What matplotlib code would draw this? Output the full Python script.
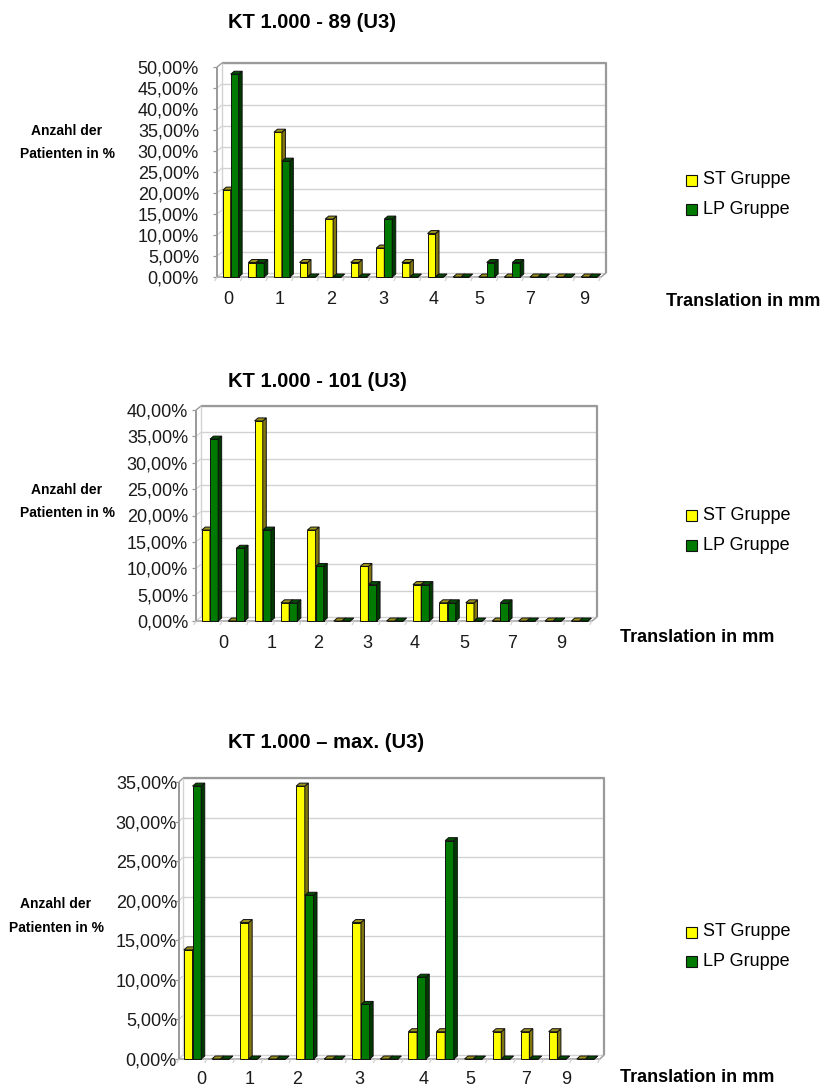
import matplotlib
matplotlib.use("Agg")
import matplotlib.pyplot as plt
import matplotlib.transforms as mtransforms
from matplotlib.patches import Polygon, Rectangle

plt.rcParams["font.family"] = ["Liberation Sans", "DejaVu Sans"]

W, H, DPI = 825, 1091, 100

# Translation classes in mm (every other class is labelled on the axis)
categories = ["0", "0,5", "1", "1,5", "2", "2,5", "3", "3,5", "4", "4,5", "5", "6", "7", "8", "9"]
axis_labels = ["0", "1", "2", "3", "4", "5", "7", "9"]
series_names = ["ST Gruppe", "LP Gruppe"]

# Share of patients in % per translation class
st_89 = [20.69, 3.45, 34.48, 3.45, 13.79, 3.45, 6.90, 3.45, 10.34, 0, 0, 0, 0, 0, 0]
lp_89 = [48.28, 3.45, 27.59, 0, 0, 0, 13.79, 0, 0, 0, 3.45, 3.45, 0, 0, 0]

st_101 = [17.24, 0, 37.93, 3.45, 17.24, 0, 10.34, 0, 6.90, 3.45, 3.45, 0, 0, 0, 0]
lp_101 = [34.48, 13.79, 17.24, 3.45, 10.34, 0, 6.90, 0, 6.90, 3.45, 0, 3.45, 0, 0, 0]

st_max = [13.79, 0, 17.24, 0, 34.48, 0, 17.24, 0, 3.45, 3.45, 0, 3.45, 3.45, 3.45, 0]
lp_max = [34.48, 0, 0, 0, 20.69, 0, 6.90, 0, 10.34, 27.59, 0, 0, 0, 0, 0]

titles = ["KT 1.000 - 89 (U3)", "KT 1.000 - 101 (U3)", "KT 1.000 \u2013 max. (U3)"]
y_maxima = [50, 40, 35]
y_title_lines = ["Anzahl der", "Patienten in %"]
x_title = "Translation in mm"

# Page layout of the three panels (pixel positions on the page)
layout = [
    dict(L=222, R=606, top=67, floor=277, dx=5, dy=4, lab_right=199,
         title_y=23, ylab_x=67, ylab_y=(131, 154), leg_y=(180, 209),
         trans=(666, 301), xlab_y=300,
         xlab_pos=[0.23, 2.27, 4.26, 6.29, 8.28, 10.04, 12.03, 14.14]),
    dict(L=201, R=597, top=410, floor=621, dx=5, dy=4, lab_right=188,
         title_y=382, ylab_x=67, ylab_y=(490, 513), leg_y=(516, 545),
         trans=(620, 638), xlab_y=644,
         xlab_pos=[0.86, 2.66, 4.45, 6.29, 8.08, 9.96, 11.79, 13.63]),
    dict(L=183, R=604, top=782, floor=1059, dx=4, dy=4, lab_right=177,
         title_y=742, ylab_x=56, ylab_y=(904, 928), leg_y=(932, 961),
         trans=(620, 1077), xlab_y=1080,
         xlab_pos=[0.67, 2.36, 4.07, 6.28, 8.59, 10.24, 12.21, 13.64]),
]

YEL = dict(front="#FFFF00", side="#82770F", top="#9C931C")
GRN = dict(front="#007A00", side="#003A00", top="#004F00")
GRID = "#d2d2d2"
WALL = "#9a9a9a"
EDGE = "#111111"


def fx(x):
    return x / W


def fy(y):
    return 1 - y / H


fig = plt.figure(figsize=(W / DPI, H / DPI), dpi=DPI)
fig.patch.set_facecolor("white")


def draw_panel(lay, title, ymax, st, lp):
    n = len(categories)
    ax = fig.add_axes([fx(lay["L"]), fy(lay["floor"]),
                       (lay["R"] - lay["L"]) / W, (lay["floor"] - lay["top"]) / H])
    ax.set_xlim(0, n)
    ax.set_ylim(0, ymax)
    ax.axis("off")

    slot_px = (lay["R"] - lay["L"]) / n
    val_px = (lay["floor"] - lay["top"]) / ymax
    dxd = lay["dx"] / slot_px
    dyd = lay["dy"] / val_px
    tick_x = 4 / slot_px
    tick_y = 4 / val_px
    kw = dict(clip_on=False, solid_capstyle="butt")

    # back wall with gridlines, left wall and floor
    for v in range(0, ymax + 1, 5):
        ax.plot([0, n], [v + dyd, v + dyd], color=GRID, lw=1.0, zorder=0, **kw)
        ax.plot([-dxd, 0], [v, v + dyd], color=GRID, lw=0.8, zorder=0, **kw)
        ax.plot([-dxd - tick_x, -dxd], [v, v], color=WALL, lw=0.9, zorder=1, **kw)
    ax.plot([0, n, n], [ymax + dyd, ymax + dyd, dyd], color=WALL, lw=1.6, zorder=1, **kw)
    ax.plot([0, 0], [dyd, ymax + dyd], color=GRID, lw=1.0, zorder=1, **kw)
    ax.plot([-dxd, -dxd], [0, ymax], color=WALL, lw=1.4, zorder=1, **kw)
    ax.plot([-dxd, 0], [ymax, ymax + dyd], color=WALL, lw=0.9, zorder=1, **kw)
    ax.plot([-dxd, n - dxd, n], [0, 0, dyd], color=WALL, lw=1.0, zorder=1, **kw)
    for k in range(n + 1):
        ax.plot([k - dxd, k - dxd - 0.6 * tick_x], [0, -tick_y], color=GRID,
                lw=0.9, zorder=1, **kw)

    # 3-D looking columns
    width = 0.31
    start = 0.03
    bdx = 3.5 / slot_px
    bdy = 3.0 / val_px
    for s, (vals, col) in enumerate([(st, YEL), (lp, GRN)]):
        x0 = [i + start + s * width for i in range(n)]
        z = 2 + s
        ax.bar(x0, vals, width=width, align="edge", color=col["front"],
               edgecolor=EDGE, linewidth=0.7, zorder=z, clip_on=False)
        for xa, v in zip(x0, vals):
            xb = xa + width
            side = [(xb, 0), (xb, v), (xb + bdx, v + bdy), (xb + bdx, bdy)]
            top = [(xa, v), (xb, v), (xb + bdx, v + bdy), (xa + bdx, v + bdy)]
            ax.add_patch(Polygon(side, closed=True, fc=col["side"], ec=EDGE,
                                 lw=0.7, zorder=z, clip_on=False))
            ax.add_patch(Polygon(top, closed=True, fc=col["top"], ec=EDGE,
                                 lw=0.7, zorder=z, clip_on=False))

    # value axis labels
    ytr = mtransforms.blended_transform_factory(fig.transFigure, ax.transData) + \
        mtransforms.ScaledTranslation(0, -2 / DPI, fig.dpi_scale_trans)
    for v in range(0, ymax + 1, 5):
        ax.text(fx(lay["lab_right"]), v, f"{v},00%", transform=ytr, ha="right",
                va="center", fontsize=13, color="#1a1a1a")

    # category axis labels
    xtr = mtransforms.blended_transform_factory(ax.transData, fig.transFigure)
    for pos, lab in zip(lay["xlab_pos"], axis_labels):
        ax.text(pos, fy(lay["xlab_y"]), lab, transform=xtr, ha="center",
                va="center", fontsize=13, color="#1a1a1a", clip_on=False)

    # titles
    fig.text(fx(228), fy(lay["title_y"]), title, ha="left", va="center",
             fontsize=14.5, fontweight="bold")
    for line, yy in zip(y_title_lines, lay["ylab_y"]):
        fig.text(fx(lay["ylab_x"]), fy(yy), line, ha="center", va="center",
                 fontsize=10, fontweight="bold")
    fig.text(fx(lay["trans"][0]), fy(lay["trans"][1]), x_title, ha="left",
             va="center", fontsize=13, fontweight="bold")

    # legend
    for name, col, yy in zip(series_names, (YEL, GRN), lay["leg_y"]):
        fig.add_artist(Rectangle((fx(686), fy(yy + 5.5)), 11 / W, 11 / H,
                                 transform=fig.transFigure, fc=col["front"],
                                 ec=EDGE, lw=0.8))
        fig.text(fx(703), fy(yy), name, ha="left", va="center", fontsize=13)


for lay, title, ymax, st, lp in zip(layout, titles, y_maxima,
                                     [st_89, st_101, st_max],
                                     [lp_89, lp_101, lp_max]):
    draw_panel(lay, title, ymax, st, lp)

fig.savefig("out.png", dpi=DPI, facecolor="white")
